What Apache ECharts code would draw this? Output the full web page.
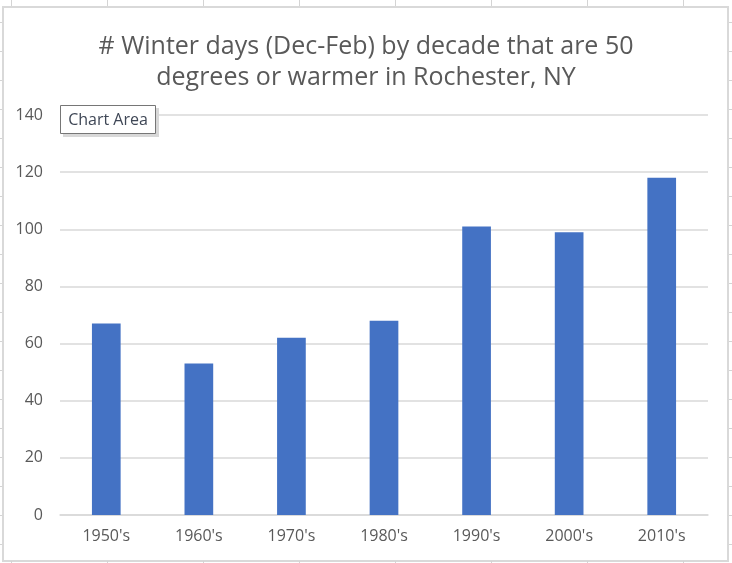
<!DOCTYPE html>
<html>
<head>
<meta charset="utf-8">
<script src="https://cdn.jsdelivr.net/npm/echarts@6/dist/echarts.min.js"></script>
<style>
html,body{margin:0;padding:0;background:#fff;}
#chart{width:732px;height:563px;}
</style>
</head>
<body>
<div id="chart"></div>
<script>
const titleLines = ["# Winter days (Dec-Feb) by decade that are 50", "degrees or warmer in Rochester, NY"];
const decades = ["1950's", "1960's", "1970's", "1980's", "1990's", "2000's", "2010's"];
const warmDays = [67, 53, 62, 68, 101, 99, 118];
const yTicks = { min: 0, max: 140, interval: 20 };
const tooltipLabel = "Chart Area";

const chart = echarts.init(document.getElementById('chart'));

// Excel sheet decorations outside the chart frame
const deco = [];
const colXs = [11, 107, 203, 299, 395, 491, 587, 683];
colXs.forEach(x => {
  deco.push({type:'line', shape:{x1:x+0.5,y1:0,x2:x+0.5,y2:6}, style:{stroke:'#d4d4d4',lineWidth:1}, silent:true});
  deco.push({type:'line', shape:{x1:x+0.5,y1:561,x2:x+0.5,y2:563}, style:{stroke:'#d4d4d4',lineWidth:1}, silent:true});
});
for (let y = 22; y < 563; y += 29) {
  deco.push({type:'line', shape:{x1:0,y1:y+0.5,x2:2,y2:y+0.5}, style:{stroke:'#d4d4d4',lineWidth:1}, silent:true});
  deco.push({type:'line', shape:{x1:729,y1:y+0.5,x2:732,y2:y+0.5}, style:{stroke:'#d4d4d4',lineWidth:1}, silent:true});
}
// chart frame
deco.push({type:'rect', shape:{x:3,y:7,width:725,height:554}, style:{fill:null, stroke:'#d9d9d9', lineWidth:2}, silent:true, z:-1});
// "Chart Area" hover tip
deco.push({type:'rect', shape:{x:63,y:108,width:96,height:29}, style:{fill:'#d8d8d8'}, silent:true, z:10});
deco.push({type:'rect', shape:{x:60.5,y:105.5,width:95,height:28}, style:{fill:'#ffffff', stroke:'#767676', lineWidth:1}, silent:true, z:11});
deco.push({type:'text', x:108, y:120, style:{text:tooltipLabel, fill:'#3f4756', font:'16px "Open Sans", sans-serif', align:'center', verticalAlign:'middle'}, silent:true, z:12});

chart.setOption({
  animation: false,
  backgroundColor: '#ffffff',
  title: {
    text: titleLines.join('\n'),
    left: 'center',
    top: 26,
    textStyle: { fontFamily: '"Open Sans", sans-serif', fontSize: 25, fontWeight: 'normal', color: '#595959', lineHeight: 31 }
  },
  grid: { left: 60, right: 24, top: 115, bottom: 48, containLabel: false },
  xAxis: {
    type: 'category',
    data: decades,
    axisLine: { lineStyle: { color: '#d9d9d9', width: 1.5 } },
    axisTick: { show: false },
    axisLabel: { color: '#595959', fontSize: 16, fontFamily: '"Open Sans", sans-serif', margin: 13 }
  },
  yAxis: {
    type: 'value',
    min: yTicks.min, max: yTicks.max, interval: yTicks.interval,
    axisLine: { show: false },
    axisTick: { show: false },
    splitLine: { lineStyle: { color: '#d9d9d9', width: 1.5 } },
    axisLabel: { color: '#595959', fontSize: 16, fontFamily: '"Open Sans", sans-serif', margin: 17 }
  },
  series: [{
    type: 'bar',
    data: warmDays,
    barWidth: '31%',
    itemStyle: { color: '#4472c4' }
  }],
  graphic: deco
});
</script>
</body>
</html>
